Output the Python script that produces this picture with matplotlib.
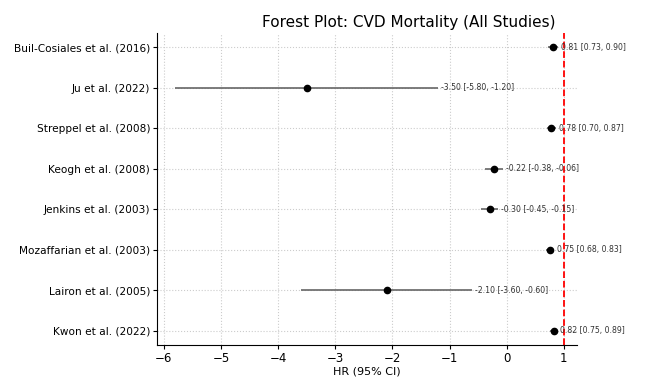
import matplotlib.pyplot as plt

studies = ["Buil-Cosiales et al. (2016)", "Ju et al. (2022)", "Streppel et al. (2008)",
           "Keogh et al. (2008)", "Jenkins et al. (2003)", "Mozaffarian et al. (2003)",
           "Lairon et al. (2005)", "Kwon et al. (2022)"]
hr = [0.81, -3.50, 0.78, -0.22, -0.30, 0.75, -2.10, 0.82]
lower = [0.73, -5.80, 0.70, -0.38, -0.45, 0.68, -3.60, 0.75]
upper = [0.90, -1.20, 0.87, -0.06, -0.15, 0.83, -0.60, 0.89]

fig = plt.figure(figsize=(6.53, 3.85), dpi=100)
ax = fig.add_axes([157 / 653, 40 / 385, 420 / 653, 312 / 385])

n = len(studies)
ypos = [n - 1 - i for i in range(n)]
xerr = [[h - l for h, l in zip(hr, lower)], [u - h for h, u in zip(hr, upper)]]
ax.errorbar(hr, ypos, xerr=xerr, fmt='o', color='black', ecolor='#666666',
            markersize=4.5, elinewidth=1.2, capsize=0)
for h, l, u, y in zip(hr, lower, upper, ypos):
    ax.text(u + 0.05, y, f"{h:.2f} [{l:.2f}, {u:.2f}]", va='center', fontsize=5.6, color='#333333')

ax.axvline(1, color='red', linestyle='--', linewidth=1.3)
ax.set_yticks(ypos)
ax.set_yticklabels(studies, fontsize=7.6)
ax.set_xlim(-6.12, 1.23)
ax.set_ylim(-0.35, n - 1 + 0.35)
ax.tick_params(axis='x', labelsize=8.5, pad=2, length=3)
ax.tick_params(axis='y', pad=2, length=3)
ax.set_xlabel("HR (95% CI)", fontsize=8, labelpad=1)
ax.grid(True, linestyle=':', color='#cccccc', linewidth=0.8)
ax.spines['top'].set_visible(False)
ax.spines['right'].set_visible(False)
fig.text(409 / 653, 1 - 22 / 385, "Forest Plot: CVD Mortality (All Studies)", ha='center', va='center', fontsize=11)

plt.savefig("out.png", dpi=100)
